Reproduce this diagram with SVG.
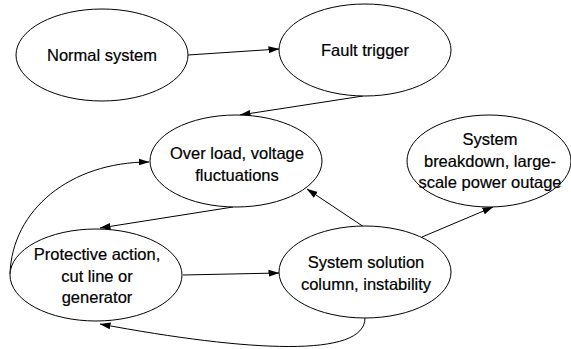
<svg xmlns="http://www.w3.org/2000/svg" width="571" height="349" viewBox="0 0 571 349">
<defs>
<marker id="ah" markerWidth="11" markerHeight="8" refX="10.5" refY="4" orient="auto" markerUnits="userSpaceOnUse">
<path d="M0,0.5 L11,4 L0,7.5 Z" fill="#000"/>
</marker>
<style>
ellipse{fill:#fff;stroke:#000;stroke-width:1}
text{font-family:"Liberation Sans",Arial,sans-serif;font-size:16.5px;fill:#000;stroke:#000;stroke-width:0.2;text-anchor:middle}
.c path{fill:none;stroke:#000;stroke-width:1;marker-end:url(#ah)}
</style>
</defs>
<rect width="571" height="349" fill="#fff"/>
<g class="c" id="connectors">
<path d="M188,55 L279,49"/>
<path d="M363,96 L240,115"/>
<path d="M233,207 L100,228"/>
<path d="M183,275 L279,273"/>
<path d="M364,227 L307,189"/>
<path d="M422,237 L493,207"/>
<path d="M10,274 C12,210 70,162 149,162"/>
<path d="M365,318 C365,358 250,352 100,324"/>
</g>
<g id="normal"><ellipse cx="102" cy="55" rx="86" ry="46"/><text x="102" y="61">Normal system</text></g>
<g id="fault"><ellipse cx="365" cy="50" rx="86" ry="46"/><text x="365" y="56">Fault trigger</text></g>
<g id="overload"><ellipse cx="236" cy="161" rx="86" ry="46"/><text x="237" y="159">Over load, voltage</text><text x="237" y="181">fluctuations</text></g>
<g id="breakdown"><ellipse cx="489" cy="161" rx="82" ry="46"/><text x="490" y="145">System</text><text x="490" y="167">breakdown, large-</text><text x="490" y="188">scale power outage</text></g>
<g id="protective"><ellipse cx="96" cy="275" rx="86" ry="46"/><text x="97" y="260">Protective action,</text><text x="97" y="282">cut line or</text><text x="97" y="303">generator</text></g>
<g id="solution"><ellipse cx="365" cy="272" rx="86" ry="46"/><text x="366" y="268">System solution</text><text x="366" y="290">column, instability</text></g>
</svg>
